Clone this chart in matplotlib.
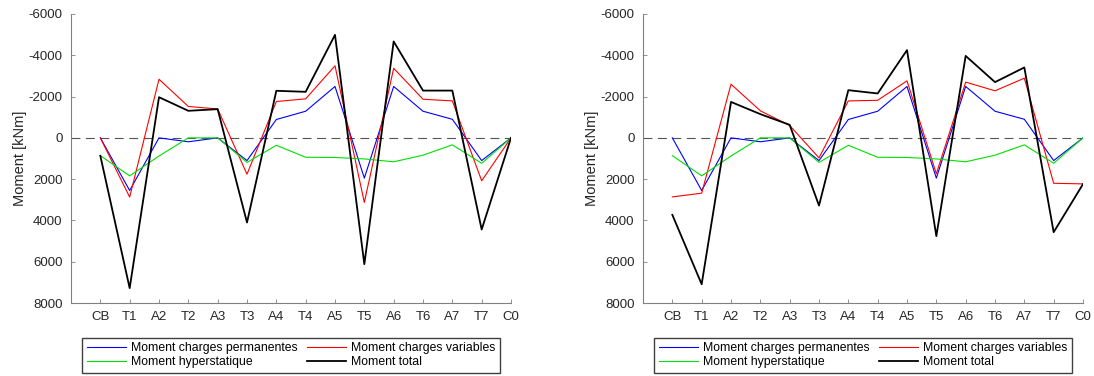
import numpy as np
import matplotlib
matplotlib.use('Agg')
import matplotlib.pyplot as plt

plt.rcParams['font.family'] = ['Liberation Sans', 'DejaVu Sans']
plt.rcParams['axes.unicode_minus'] = False

sections = ['CB', 'T1', 'A2', 'T2', 'A3', 'T3', 'A4', 'T4', 'A5', 'T5', 'A6', 'T6', 'A7', 'T7', 'C0']

# cas 1 (gauche)
m_perm = [0, 2550, 0, 190, 0, 1100, -890, -1290, -2490, 1950, -2490, -1290, -900, 1100, 0]
m_var_1 = [0, 2870, -2840, -1520, -1400, 1760, -1760, -1890, -3490, 3130, -3370, -1870, -1790, 2080, 0]
m_hyp = [860, 1840, 880, 0, 0, 1190, 360, 940, 950, 1020, 1160, 840, 340, 1230, 0]
m_tot_1 = [870, 7280, -1970, -1310, -1390, 4100, -2280, -2230, -4990, 6120, -4670, -2290, -2290, 4440, 0]

# cas 2 (droite)
m_var_2 = [2860, 2680, -2600, -1310, -600, 970, -1790, -1820, -2760, 1740, -2700, -2280, -2890, 2200, 2230]
m_tot_2 = [3730, 7090, -1740, -1150, -630, 3280, -2310, -2150, -4250, 4760, -3970, -2700, -3410, 4570, 2240]

W, H = 1094, 376
fig = plt.figure(figsize=(W / 100, H / 100), dpi=100)

x = np.arange(len(sections))
txt = '#262626'
grey = '#808080'


def draw(left_px, var, tot, legend_cx):
    ax = fig.add_axes([left_px / W, 1 - 303 / H, 440 / W, 289 / H])
    ax.axhline(0, color='#555555', lw=0.8, ls=(0, (8, 5)))
    l1, = ax.plot(x, m_perm, color='#0000ff', lw=0.8, label='Moment charges permanentes')
    l2, = ax.plot(x, var, color='#ff0000', lw=0.8, label='Moment charges variables')
    l3, = ax.plot(x, m_hyp, color='#00e000', lw=0.8, label='Moment hyperstatique')
    l4, = ax.plot(x, tot, color='black', lw=1.3, label='Moment total')
    ax.set_xlim(-1, 14)
    ax.set_ylim(8000, -6000)
    ax.set_yticks(np.arange(-6000, 8001, 2000))
    ax.set_xticks(x)
    ax.set_xticklabels(sections)
    ax.spines['top'].set_visible(False)
    ax.spines['right'].set_visible(False)
    for s in ('left', 'bottom'):
        ax.spines[s].set_color(grey)
        ax.spines[s].set_linewidth(0.8)
    ax.tick_params(direction='in', length=3, width=0.6, color=grey,
                   labelsize=9.5, labelcolor=txt, pad=6)
    ax.set_ylabel('Moment [kNm]', fontsize=10.5, color=txt)
    ax.yaxis.set_label_coords(-0.10, 0.5)
    fig.legend([l1, l3, l2, l4],
               [l.get_label() for l in (l1, l3, l2, l4)],
               ncol=2, loc='center', bbox_to_anchor=(legend_cx / W, 1 - 355 / H),
               fontsize=8.8, handlelength=3.2, handletextpad=0.4,
               columnspacing=0.8, labelspacing=0.2, borderpad=0.35,
               fancybox=False, framealpha=1, edgecolor='#404040', borderaxespad=0)
    return ax


draw(71, m_var_1, m_tot_1, 291)
draw(643, m_var_2, m_tot_2, 863)

fig.savefig('out.png', dpi=100)
